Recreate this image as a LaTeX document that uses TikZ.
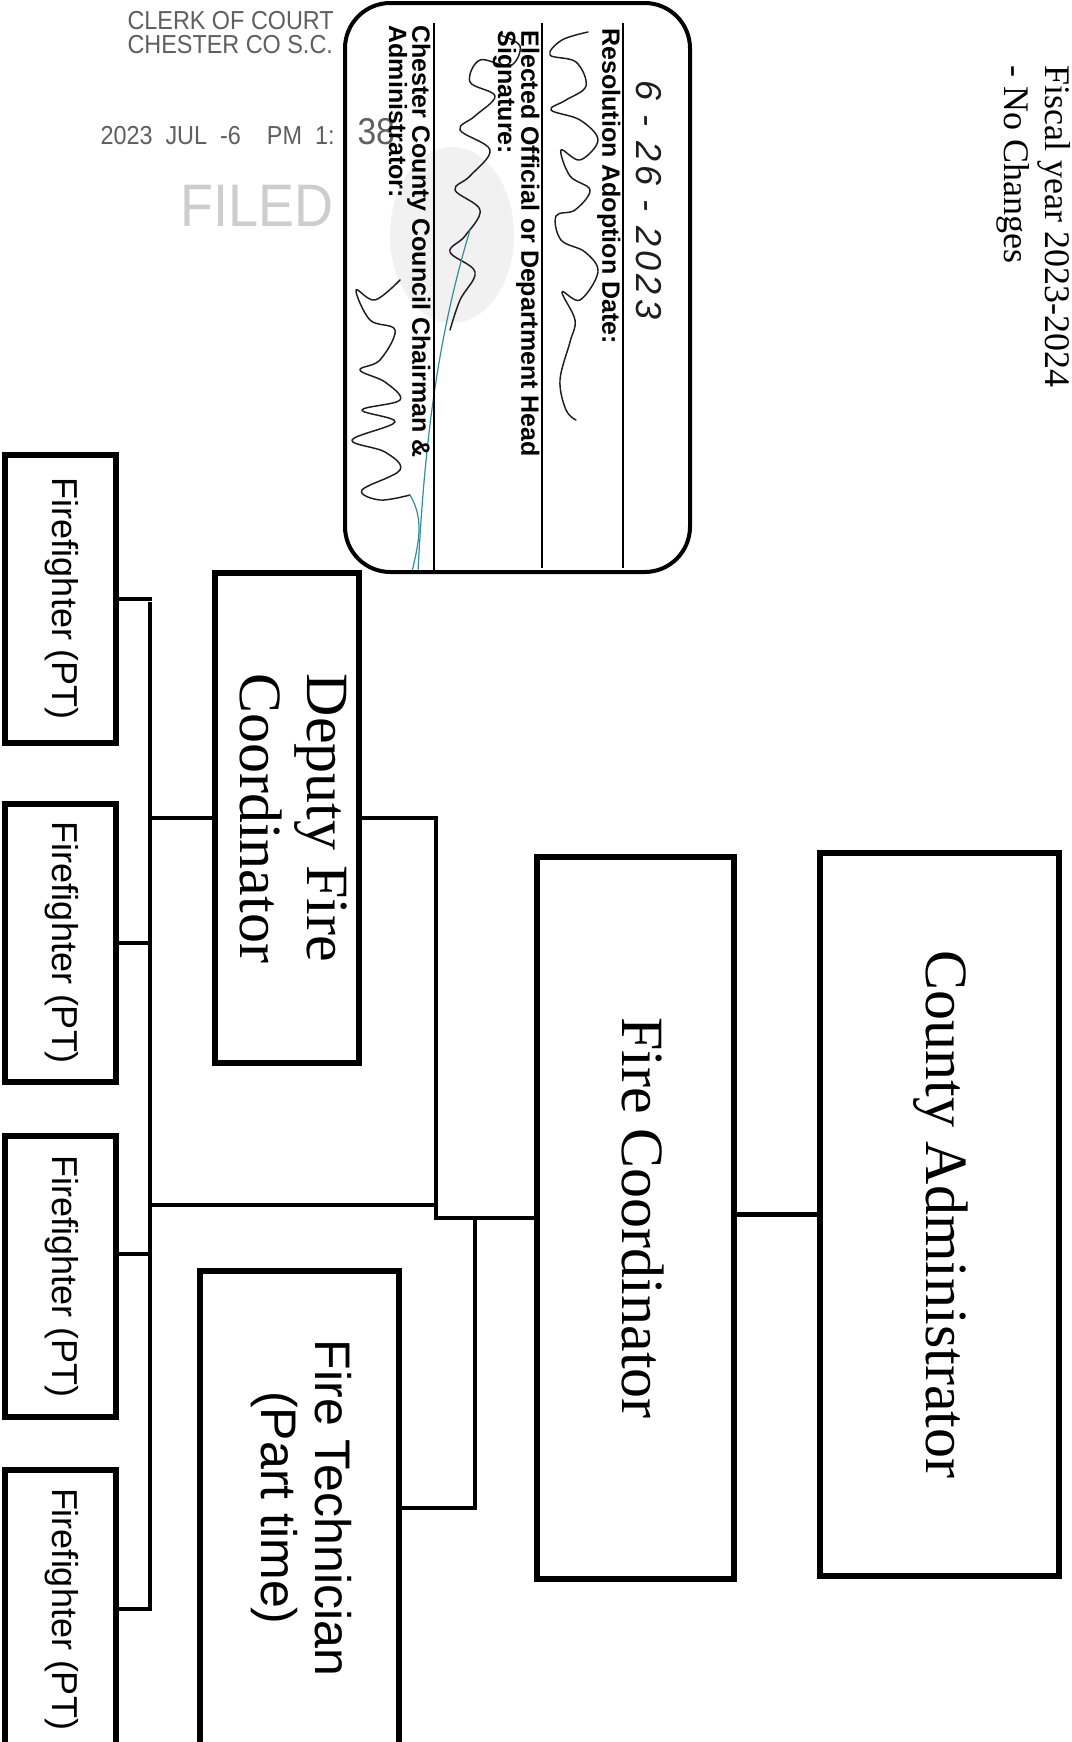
\documentclass[tikz,border=0pt]{standalone}
\usepackage{fontspec}
\setmainfont{Liberation Serif}
\setsansfont{Liberation Sans}
\newfontfamily\stampfont[FakeStretch=0.9]{Liberation Sans}
\usepackage{graphicx}

\definecolor{stampgray}{RGB}{95,95,95}
\definecolor{fadedgray}{RGB}{205,205,205}
\definecolor{inkblack}{RGB}{30,30,30}
\definecolor{inkteal}{RGB}{47,142,160}

\newcommand{\vtext}[1]{\rotatebox{-90}{\begin{tabular}{@{}c@{}}#1\end{tabular}}}

\tikzset{every picture/.style={line width=0.75pt}}
\tikzset{
  orgbox/.style={draw, line width=3.8pt, inner sep=0pt, fill=white},
  serifbig/.style={font=\fontsize{45}{50}\selectfont},
  sansmid/.style={font=\sffamily\fontsize{37.5}{40.5}\selectfont},
  ffbox/.style={orgbox, minimum width=83.25pt, font=\sffamily\fontsize{27}{30}\selectfont},
  link/.style={line width=3.6pt, line cap=rect},
  formtext/.style={rotate=-90, anchor=north west, inner sep=0pt, align=left, font=\sffamily\bfseries\fontsize{18.75}{17.5}\selectfont},
  formline/.style={line width=1.5pt},
  stamptext/.style={anchor=north west, inner sep=0pt, align=left, text=stampgray, font=\stampfont\fontsize{19.5}{21}\selectfont},
  signature/.style={line width=1.1pt, line join=round, line cap=round, smooth, tension=0.6},
}

\begin{document}
\begin{tikzpicture}[x=0.75pt,y=0.75pt,yscale=-1,xscale=1]
\useasboundingbox (0,0) rectangle (1071,1742);
\fill[white] (0,0) rectangle (1071,1742);

% Text Node
\node[rotate=-90, anchor=north west, inner sep=0pt, align=left, font=\fontsize{27}{31}\selectfont] (fiscal) at (1071,65) {Fiscal year 2023-2024\\- No Changes};

%Stamp
\node[stamptext] (clerk) at (127,11) {CLERK OF COURT};
\node[stamptext] (chester) at (127,35) {CHESTER CO S.C.};
\node[stamptext] (stamptime) at (100,126) {2023\enspace JUL\enspace -6\quad PM\enspace 1:};
\node[stamptext, font=\stampfont\fontsize{28}{30}\selectfont] (stampmin) at (357,118) {38};
\node[stamptext, text=fadedgray, font=\stampfont\fontsize{45}{47}\selectfont] (filed) at (180,185) {FILED};

%Shape: Seal impression
\fill[gray!30, opacity=0.35] (452,235) ellipse [x radius=62, y radius=88];

%Signatures
\draw[signature, inkblack] plot coordinates {(588,32) (562,40) (550,55) (576,62) (586,86) (566,100) (551,110) (580,120) (598,140) (580,160) (561,150) (570,176) (590,190) (575,210) (556,216) (561,240) (585,252) (598,272) (580,300) (562,292) (575,320) (570,342) (560,380) (566,410) (576,420)};
\draw[signature, inkblack] plot coordinates {(500,35) (520,46) (510,66) (480,60) (470,82) (495,96) (475,116) (460,130) (490,150) (470,176) (455,190) (480,210) (465,236) (450,252) (475,272) (460,300) (450,330)};
\draw[signature, inkblack] plot coordinates {(400,280) (375,300) (356,290) (370,320) (395,330) (380,360) (360,370) (385,382) (400,400) (362,410) (395,422) (352,440) (385,452) (400,470) (362,490) (380,500) (410,495)};
\draw[signature, inkteal, line width=0.9pt] (470,230) .. controls (440,330) and (425,430) .. (418,572);
\draw[signature, inkteal, line width=0.9pt] (410,495) .. controls (425,520) and (418,545) .. (412,572);

%Shape: Rounded Rect
\draw[line width=3pt, rounded corners=34pt] (345,3) rectangle (690,572);
\draw[formline] (623,23) -- (623,568);
\draw[formline] (542,23) -- (542,568);
\draw[formline] (434,23) -- (434,570);

% Text Node
\node[rotate=-90, anchor=north west, inner sep=0pt, text=inkblack, font=\sffamily\itshape\fontsize{27}{30}\selectfont\addfontfeature{LetterSpace=12}] (adoptdate) at (662,80) {6 - 26 - 2023};
\node[formtext] (resdate) at (621,28) {Resolution Adoption Date:};
\node[formtext] (elected) at (540,30) {Elected Official or Department Head\\Signature:};
\node[formtext] (chair) at (431,25) {Chester County Council Chairman \&\\Administrator:};

%Org chart boxes
\node[orgbox, serifbig, minimum width=179.25pt, minimum height=542.25pt] (ca) at (939.5,1214.5) {\vtext{County Administrator}};
\node[orgbox, serifbig, minimum width=147.75pt, minimum height=541.5pt] (fc) at (635.5,1218) {\vtext{Fire Coordinator}};
\node[orgbox, serifbig, minimum width=108pt, minimum height=367.5pt] (dfc) at (287,818) {\vtext{Deputy Fire\\Coordinator}};
\node[orgbox, sansmid, minimum width=149.25pt, minimum height=355.5pt] (ft) at (299.5,1508) {\vtext{Fire Technician\\(Part time)}};
\node[ffbox, minimum height=216pt] (ff1) at (60.5,599) {\vtext{Firefighter (PT)}};
\node[ffbox, minimum height=208.5pt] (ff2) at (60.5,943) {\vtext{Firefighter (PT)}};
\node[ffbox, minimum height=210.75pt] (ff3) at (60.5,1276.5) {\vtext{Firefighter (PT)}};
\node[ffbox, minimum height=208.5pt] (ff4) at (60.5,1609) {\vtext{Firefighter (PT)}};

%Connectors
\coordinate (trunktop) at (150,604);
\coordinate (trunkbot) at (150,1609);
\coordinate (busA) at (436,1218);
\coordinate (busB) at (475,1218);
\coordinate (cross) at (436,1205);
\coordinate (stub3) at (0,1254);

\draw[link] (ca.west) -- (ca.west -| fc.east);
\draw[link] (fc.west) -- (busA);
\draw[link] (dfc.east) -| (busA);
\draw[link] (busB) |- (ft.east);
\draw[link] (cross) -- (cross -| trunktop);
\draw[link] (trunktop) -- (trunkbot);
\draw[link] (dfc.west) -- (dfc.west -| trunktop);
\draw[link] (ff1.east) -- (ff1.east -| trunktop);
\draw[link] (ff2.east) -- (ff2.east -| trunktop);
\draw[link] (ff3.east |- stub3) -- (trunktop |- stub3);
\draw[link] (ff4.east) -- (ff4.east -| trunktop);

\end{tikzpicture}
\end{document}
